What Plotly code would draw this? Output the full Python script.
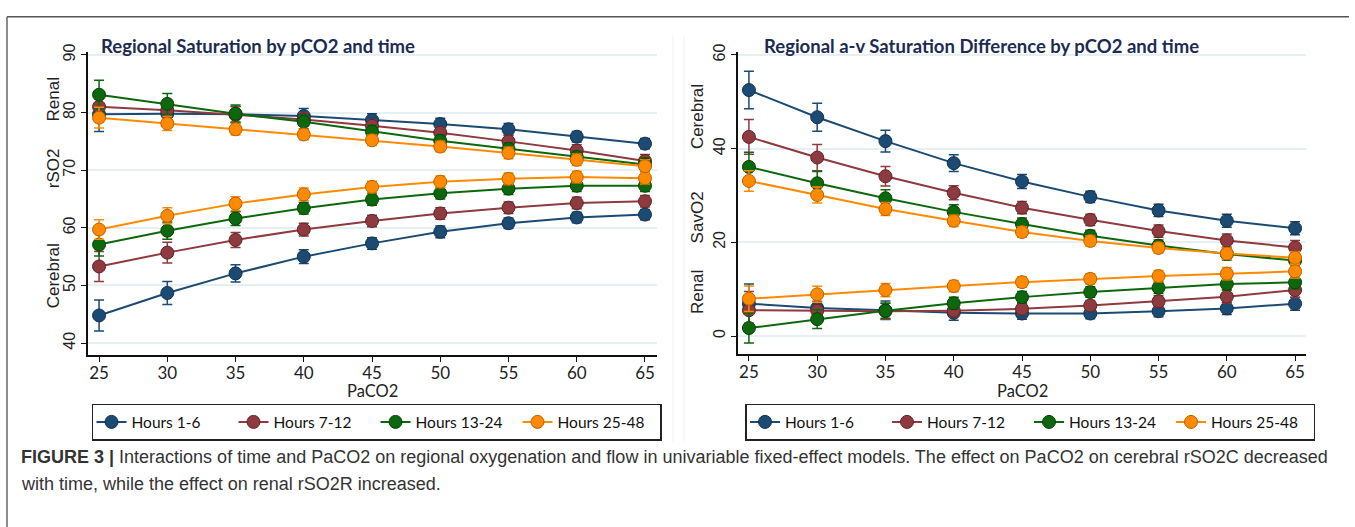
import plotly.graph_objects as go

W, H = 1355, 527

paco2 = [25, 30, 35, 40, 45, 50, 55, 60, 65]
groups = ["Hours 1-6", "Hours 7-12", "Hours 13-24", "Hours 25-48"]
colors = ["#1b4a73", "#8e3a3e", "#0d680d", "#ff8a00"]
outline = ["#12324f", "#5e2528", "#064306", "#b86200"]

# Left panel: rSO2
rso2_renal = [
    [79.7, 79.8, 79.7, 79.4, 78.7, 78.0, 77.1, 75.8, 74.6],
    [81.0, 80.4, 79.6, 78.8, 77.7, 76.5, 75.0, 73.4, 71.6],
    [83.1, 81.5, 79.8, 78.4, 76.7, 75.1, 73.7, 72.3, 71.0],
    [79.1, 78.1, 77.1, 76.2, 75.2, 74.1, 73.0, 71.8, 70.7],
]
rso2_renal_ci = [
    [3.0, 1.6, 1.4, 1.3, 1.1, 1.0, 1.0, 0.9, 0.9],
    [2.4, 1.8, 1.4, 1.1, 1.0, 1.0, 1.0, 1.0, 1.1],
    [2.5, 1.8, 1.5, 1.2, 1.1, 1.0, 1.0, 1.0, 1.1],
    [1.8, 1.2, 1.0, 0.9, 0.9, 0.9, 1.0, 1.0, 1.1],
]
rso2_cerebral = [
    [44.8, 48.7, 52.1, 55.0, 57.3, 59.3, 60.8, 61.8, 62.3],
    [53.3, 55.7, 57.9, 59.7, 61.2, 62.5, 63.5, 64.3, 64.6],
    [57.1, 59.5, 61.6, 63.4, 64.9, 66.0, 66.8, 67.3, 67.3],
    [59.7, 62.1, 64.2, 65.8, 67.1, 68.0, 68.5, 68.8, 68.6],
]
rso2_cerebral_ci = [
    [2.7, 2.0, 1.5, 1.2, 1.0, 1.0, 0.9, 0.9, 0.9],
    [2.6, 1.8, 1.3, 1.1, 1.0, 1.0, 1.0, 1.0, 1.0],
    [2.0, 1.5, 1.2, 1.0, 1.0, 1.0, 1.0, 1.0, 1.0],
    [1.7, 1.4, 1.2, 1.1, 1.0, 1.0, 1.0, 1.0, 1.0],
]

# Right panel: SavO2
savo2_cerebral = [
    [52.5, 46.7, 41.6, 36.9, 33.0, 29.7, 26.8, 24.6, 23.0],
    [42.5, 38.1, 34.1, 30.6, 27.4, 24.8, 22.4, 20.4, 18.9],
    [36.1, 32.6, 29.4, 26.5, 23.9, 21.4, 19.3, 17.5, 16.1],
    [33.1, 30.1, 27.1, 24.6, 22.2, 20.3, 18.8, 17.6, 16.7],
]
savo2_cerebral_ci = [
    [4.0, 3.0, 2.3, 1.8, 1.5, 1.2, 1.3, 1.4, 1.4],
    [3.7, 2.8, 2.1, 1.5, 1.3, 1.2, 1.3, 1.4, 1.5],
    [3.1, 2.5, 1.8, 1.5, 1.3, 1.2, 1.2, 1.3, 1.4],
    [2.2, 1.7, 1.4, 1.2, 1.1, 1.1, 1.1, 1.2, 1.3],
]
savo2_renal = [
    [6.9, 6.0, 5.5, 4.95, 4.8, 4.8, 5.3, 5.9, 6.9],
    [5.5, 5.4, 5.3, 5.4, 5.8, 6.5, 7.4, 8.4, 9.8],
    [1.7, 3.6, 5.4, 7.0, 8.3, 9.4, 10.3, 11.1, 11.45],
    [7.95, 8.9, 9.8, 10.65, 11.5, 12.2, 12.8, 13.3, 13.8],
]
savo2_renal_ci = [
    [4.2, 2.5, 2.0, 1.6, 1.2, 1.1, 1.2, 1.3, 1.4],
    [4.0, 2.0, 1.7, 1.3, 1.1, 1.1, 1.2, 1.4, 1.6],
    [3.2, 2.0, 1.6, 1.3, 1.2, 1.1, 1.2, 1.3, 1.4],
    [2.7, 1.7, 1.4, 1.2, 1.1, 1.1, 1.2, 1.3, 1.4],
]

left_title = "Regional Saturation by pCO2 and time"
right_title = "Regional a-v Saturation Difference by pCO2 and time"
xtitle = "PaCO2"
caption1 = ("<b>FIGURE 3 |</b> Interactions of time and PaCO2 on regional oxygenation and flow in "
            "univariable fixed-effect models. The effect on PaCO2 on cerebral rSO2C decreased")
caption2 = "with time, while the effect on renal rSO2R increased."

def px(x):
    return x / W

def py(y):
    return 1 - y / H

fig = go.Figure()

def add_series(vals, cis, xaxis, yaxis, legend, show):
    for i in range(4):
        fig.add_trace(go.Scatter(
            x=paco2, y=vals[i], mode="lines+markers", name=groups[i],
            xaxis=xaxis, yaxis=yaxis, legend=legend, legendgroup=legend + str(i),
            showlegend=show,
            line=dict(color=colors[i], width=2),
            marker=dict(color=colors[i], size=13, line=dict(color=outline[i], width=1)),
            error_y=dict(type="data", array=cis[i], color=colors[i], thickness=1.5, width=5),
        ))

add_series(rso2_cerebral, rso2_cerebral_ci, "x", "y", "legend", True)
add_series(rso2_renal, rso2_renal_ci, "x", "y", "legend", False)
add_series(savo2_cerebral, savo2_cerebral_ci, "x2", "y2", "legend2", True)
add_series(savo2_renal, savo2_renal_ci, "x2", "y2", "legend2", False)

xfont = dict(family="Lato, Liberation Sans, sans-serif", size=17, color="#222")
yfont = dict(family="Liberation Sans, Arial, sans-serif", size=16, color="#222")
grid = "#e6eff1"

common_x = dict(tickvals=paco2, ticks="outside", ticklen=5, tickwidth=1.3, tickcolor="#111",
                showline=True, linecolor="#111", linewidth=1.5, showgrid=False,
                zeroline=False, tickfont=xfont, ticklabelstandoff=-3)
common_y = dict(ticks="outside", ticklen=5, tickwidth=1.3, tickcolor="#111",
                showline=True, linecolor="#111", linewidth=1.5, showgrid=True,
                gridcolor=grid, gridwidth=1.5, zeroline=False, tickfont=yfont, tickangle=-90)

legfont = dict(family="Lato, sans-serif", size=15.5, color="#111")
fig.update_layout(
    width=W, height=H, margin=dict(l=0, r=0, t=0, b=0),
    paper_bgcolor="white", plot_bgcolor="white", showlegend=True,
    xaxis=dict(domain=[px(88), px(657)], range=[24.19, 65.88], anchor="y", **common_x),
    yaxis=dict(domain=[py(352), py(44)], range=[37.94, 90.46], anchor="x",
               tickvals=[40, 50, 60, 70, 80, 90], **common_y),
    xaxis2=dict(domain=[px(738), px(1306)], range=[24.2, 65.8], anchor="y2", **common_x),
    yaxis2=dict(domain=[py(351), py(44)], range=[-3.84, 60.57], anchor="x2",
                tickvals=[0, 20, 40, 60], **common_y),
    legend=dict(orientation="h", x=px(376.5), y=py(420.5), xanchor="center", yanchor="middle",
                bordercolor="#222", borderwidth=1.5, bgcolor="white", entrywidth=97,
                entrywidthmode="pixels", font=legfont),
    legend2=dict(orientation="h", x=px(1030), y=py(420.5), xanchor="center", yanchor="middle",
                 bordercolor="#222", borderwidth=1.5, bgcolor="white", entrywidth=97,
                 entrywidthmode="pixels", font=legfont),
)

ann = []
tfont = dict(family="Lato, sans-serif", size=18.5, color="#1c2b52")
ann.append(dict(text="<b>" + left_title + "</b>", x=px(99), y=py(38), xanchor="left",
                yanchor="middle", font=tfont))
ann.append(dict(text="<b>" + right_title + "</b>", x=px(762), y=py(38), xanchor="left",
                yanchor="middle", font=tfont))
lfont = dict(family="Liberation Sans, Arial, sans-serif", size=17, color="#222")
for t, xx, yy in [("Renal", 53, 92), ("rSO2", 53, 162), ("Cerebral", 53, 272),
                  ("Cerebral", 697, 110), ("SavO2", 697, 212), ("Renal", 697, 288)]:
    ann.append(dict(text=t, x=px(xx), y=py(yy), textangle=-90, xanchor="center",
                    yanchor="middle", font=lfont))
for xx in [372, 1022]:
    ann.append(dict(text=xtitle, x=px(xx), y=py(389), xanchor="center", yanchor="middle",
                    font=dict(family="Lato, sans-serif", size=16.5, color="#222")))
cfont = dict(family="Liberation Sans, Arial, sans-serif", size=18, color="#333")
ann.append(dict(text=caption1, x=px(19), y=py(456), xanchor="left", yanchor="middle", font=cfont))
ann.append(dict(text=caption2, x=px(19), y=py(483), xanchor="left", yanchor="middle", font=cfont))
for a in ann:
    a.update(xref="paper", yref="paper", showarrow=False)
fig.update_layout(annotations=ann)

shapes = [
    dict(type="line", x0=px(7), x1=px(1349), y0=py(8), y1=py(8), line=dict(color="#555", width=1.5)),
    dict(type="line", x0=px(7), x1=px(7), y0=py(8), y1=0, line=dict(color="#666", width=1.5)),
    dict(type="line", x0=px(673), x1=px(673), y0=py(27), y1=py(440), line=dict(color="#eef2f3", width=1)),
    dict(type="line", x0=px(684), x1=px(684), y0=py(27), y1=py(440), line=dict(color="#eef2f3", width=1)),
]
for s in shapes:
    s.update(xref="paper", yref="paper", layer="below")
fig.update_layout(shapes=shapes)

fig.write_html("out.html")
